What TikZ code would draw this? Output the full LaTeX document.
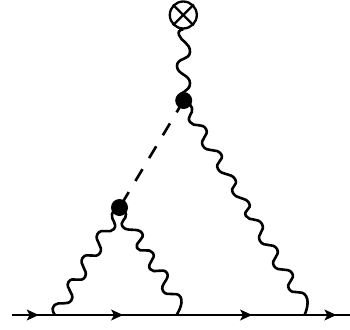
\documentclass[tikz,border=0pt]{standalone}
\usetikzlibrary{decorations.markings,arrows.meta}
\tikzset{
  fermion/.style={line width=2.7pt,postaction={decorate},decoration={markings,mark=at position #1 with {\arrow[line width=.9pt]{Stealth[length=12pt,width=11pt,inset=3pt]}}}},
  photon/.style={line width=2.6pt,line join=round,smooth,tension=1},
  blob/.style={circle,fill=black,inner sep=0pt,minimum size=17pt},
  insertion/.style={circle,draw=black,line width=2.3pt,inner sep=0pt,minimum size=27pt},
  scalar/.style={line width=2.6pt,dash pattern=on 13.8pt off 12.9pt},
  crossline/.style={line width=2.3pt}
}
\begin{document}
\begin{tikzpicture}[x=1pt,y=-1pt]
\useasboundingbox (0,0) rectangle (350,329);
\coordinate (a) at (12,315);
\coordinate (v1) at (55,315);
\coordinate (v2) at (176.5,315);
\coordinate (v3) at (304.5,315);
\coordinate (z) at (350,315);
\node[blob] (b1) at (183.7,100.5) {};
\node[blob] (b2) at (119.5,207.5) {};
\node[insertion] (x) at (183.3,15) {};
\draw[crossline] (x.north west) -- (x.south east);
\draw[crossline] (x.north east) -- (x.south west);
\draw[fermion=.62] (a) -- (v1);
\draw[fermion=.56] (v1) -- (v2);
\draw[fermion=.59] (v2) -- (v3);
\draw[fermion=.70] (v3) -- (z);
\draw[scalar] (b1.center) -- (b2.center);
\draw[photon] plot coordinates {(x.south) (179,35) (190,52) (177,66) (190,83) (178,97) (b1.center)};
\draw[photon] plot coordinates {(b1.center) (192,108) (190,122) (206,129) (203,146) (221,154) (218,169) (235,179) (233,193) (249,203) (246,216) (262,224) (260,241) (277,249) (274,266) (292,273) (289,289) (306,296) (v3)};
\draw[photon] plot coordinates {(v1) (54.5,305) (71.5,300) (68.5,282) (85,277) (82.5,258) (100,253) (97.5,234) (114,229) (112,214) (b2.center)};
\draw[photon] plot coordinates {(v2) (180.5,297) (163,291) (167,273) (150,269) (153,253) (137,248) (142,233) (123,227) (126,214) (b2.center)};
\end{tikzpicture}
\end{document}
